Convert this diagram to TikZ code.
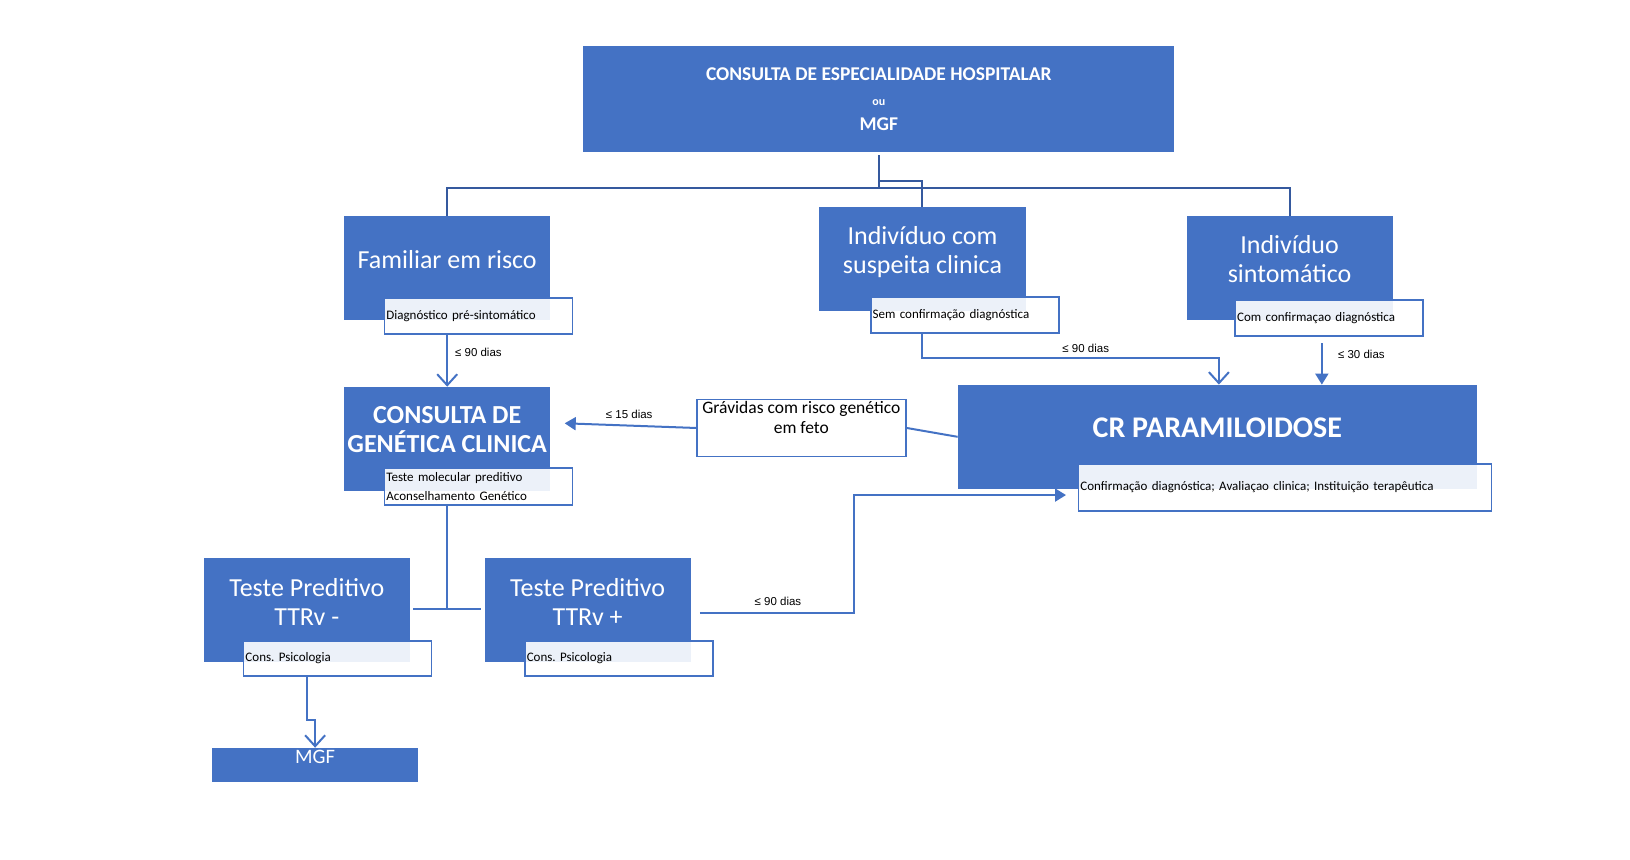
\documentclass[tikz,border=0pt]{standalone}
\usepackage{fontspec}
\setmainfont{Carlito}
\newfontfamily\labelfont{Liberation Sans}
\usetikzlibrary{arrows.meta}
\definecolor{boxblue}{HTML}{4472C4}
\definecolor{treeblue}{HTML}{35599E}
\frenchspacing

\begin{document}
\begin{tikzpicture}[x=1.04pt,y=-1.04pt,
  bigbox/.style={rectangle,fill=boxblue,text=white,minimum width=206pt,minimum height=104pt,inner sep=1pt,align=center,text depth=18pt,font=\fontsize{26}{29}\selectfont},
  subbox/.style={rectangle,draw=boxblue,line width=1.8pt,fill=white,fill opacity=0.9,text opacity=1,text=black,minimum height=36pt,inner xsep=2pt,inner ysep=1pt,text width=184pt,align=left,font=\fontsize{13}{19.5}\selectfont},
  link/.style={draw=boxblue,line width=2pt},
  tree/.style={draw=treeblue,line width=2pt},
  openhead/.style={link,-{Straight Barb[length=11pt,width=20pt]}},
  fullhead/.style={link,-{Triangle[length=11pt,width=13pt]}},
  dias/.style={font=\labelfont\fontsize{11.5}{13}\selectfont,text=black}]

  \useasboundingbox (0,0) rectangle (1567.3,826.9);

  % blue boxes
  \node[bigbox,minimum width=591pt,minimum height=106pt,text depth=0pt,font=\fontsize{19.5}{25}\selectfont\bfseries] (hosp) at (845,95) {CONSULTA DE ESPECIALIDADE HOSPITALAR\\{\fontsize{12}{12}\selectfont ou}\\MGF};
  \node[bigbox] (fam) at (430,258) {Familiar em risco};
  \node[bigbox] (susp) at (887,249) {Indivíduo com\\suspeita clinica};
  \node[bigbox] (sint) at (1240,258) {Indivíduo\\sintomático};
  \node[bigbox,font=\fontsize{26}{29}\selectfont\bfseries] (gen) at (430,422) {CONSULTA DE\\GENÉTICA CLINICA};
  \node[bigbox,minimum width=519pt,font=\fontsize{30}{34}\selectfont\bfseries] (para) at (1170.5,420) {CR PARAMILOIDOSE};
  \node[bigbox] (neg) at (295,587) {Teste Preditivo\\TTRv -};
  \node[bigbox] (pos) at (565,587) {Teste Preditivo\\TTRv +};
  \node[bigbox,minimum height=34pt,text depth=16pt,font=\fontsize{20.5}{24}\selectfont] (mgf) at (303,735.5) {MGF};

  \node[rectangle,draw=boxblue,line width=1.8pt,fill=white,minimum width=209pt,minimum height=57pt,inner sep=1pt,align=center,text depth=21pt,font=\fontsize{17.5}{20}\selectfont] (grav) at (770.5,411.5) {Grávidas com risco genético\\em feto};

  % white boxes under the blue ones
  \node[subbox] (famsub) at (460,303.5) {Diagnóstico pré-sintomático};
  \node[subbox] (suspsub) at (927.5,302.5) {Sem confirmação diagnóstica};
  \node[subbox] (sintsub) at (1278,305.5) {Com confirmaçao diagnóstica};
  \node[subbox,minimum height=37pt] (gensub) at (460,468) {Teste molecular preditivo\\Aconselhamento Genético};
  \node[subbox,text width=409pt,minimum height=47pt] (parasub) at (1235.5,468.5) {Confirmação diagnóstica; Avaliaçao clinica; Instituição terapêutica};
  \node[subbox,minimum height=35pt] (negsub) at (324.5,633) {Cons. Psicologia};
  \node[subbox,minimum height=35pt] (possub) at (595,633) {Cons. Psicologia};

  % tree from the top box
  \coordinate (bus) at (845,181);
  \coordinate (knee) at (845,174);
  \draw[tree,shorten <=3pt] (hosp.south) -- (bus);
  \draw[tree] (fam.north) |- (bus) -| (sint.north);
  \draw[tree] (knee) -| (susp.north);

  % arrows
  \draw[openhead] (fam.south |- famsub.south) -- (gen.north);
  \node[dias] (d1) at (460,339) {≤ 90 dias};

  \coordinate (bend90) at (1172,344);
  \draw[openhead] (susp.south |- suspsub.south) |- (bend90) -- (bend90 |- para.north);
  \node[dias] (d2) at (1044,335) {≤ 90 dias};

  \coordinate (in30) at (1271,330);
  \draw[fullhead] (in30) -- (in30 |- para.north);
  \node[dias] (d3) at (1309,341) {≤ 30 dias};

  \draw[link] (para.west) -- (grav.east);
  \coordinate (genin) at (543,407);
  \draw[fullhead] (grav.west) -- (genin);
  \node[dias] (d4) at (605,398) {≤ 15 dias};

  \coordinate (split) at (430,586);
  \draw[link] (gen.south |- gensub.south) -- (split);
  \draw[link,shorten <=3pt,shorten >=3pt] (neg.east |- split) -- (pos.west |- split);

  \coordinate (bendpos) at (821,476);
  \coordinate (parain) at (1025,476);
  \draw[fullhead] ([xshift=9pt,yshift=-3pt]pos.east) -| (bendpos) -- (parain);
  \node[dias] (d5) at (748,578) {≤ 90 dias};

  \coordinate (bendneg) at (303,692);
  \draw[openhead] (neg.south |- negsub.south) |- (bendneg) -- (mgf.north);
\end{tikzpicture}
\end{document}
